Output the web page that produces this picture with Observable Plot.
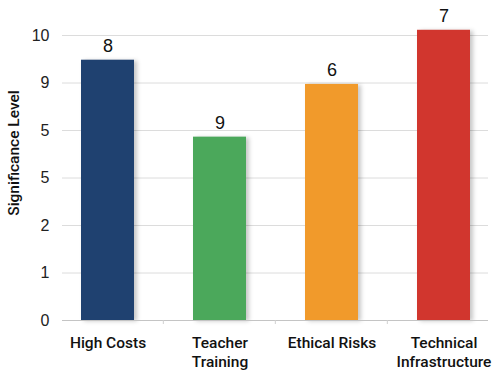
<!DOCTYPE html>
<html>
<head>
<meta charset="utf-8">
<script src="https://cdn.jsdelivr.net/npm/d3@7"></script>
<script src="https://cdn.jsdelivr.net/npm/@observablehq/plot@0.6"></script>
<style>
  html, body { margin: 0; padding: 0; background: #fff; }
  #chart svg { display: block; }
</style>
</head>
<body>
<div id="chart"></div>
<script>
const categories = ["High Costs", "Teacher\nTraining", "Ethical Risks", "Technical\nInfrastructure"];
const barHeights = [5.48, 3.86, 4.97, 6.11];
const barLabels = ["8", "9", "6", "7"];
const colors = ["#1f4170", "#4ba85b", "#f19a2b", "#d1362e"];
const yTickLabels = ["0", "1", "2", "5", "5", "9", "10"];
const yLabel = "Significance Level";

const data = categories.map((c, i) => ({cat: c, h: barHeights[i], lab: barLabels[i], col: colors[i]}));

const font = "'Liberation Sans', Arial, sans-serif";
const boldFont = "Roboto, 'Liberation Sans', sans-serif";

const chart = Plot.plot({
  width: 492,
  height: 372,
  marginLeft: 62,
  marginRight: 4,
  marginTop: 35,
  marginBottom: 52,
  style: {fontFamily: font, fontSize: "15px", color: "#222", background: "#fff", overflow: "visible"},
  x: {domain: categories, paddingInner: 0.53, paddingOuter: 0.15, label: null},
  y: {domain: [0, 6], label: null},
  marks: [
    Plot.gridY(d3.range(0, 7), {stroke: "#dcdcdc", strokeOpacity: 1, strokeWidth: 1}),
    Plot.axisY(d3.range(0, 7), {
      tickSize: 0, tickPadding: 13, fontSize: 16, fill: "#222",
      tickFormat: (d) => yTickLabels[d]
    }),
    Plot.barY(data, {
      x: "cat", y: "h", fill: "col",
      imageFilter: "drop-shadow(3px 1px 2px rgba(0,0,0,0.22))"
    }),
    Plot.ruleY([0], {stroke: "#c4c4c4", strokeWidth: 1.2}),
    Plot.axisX({
      tickSize: 0, tickPadding: 14, fontSize: 15.5, fontWeight: 500, fill: "#111",
      fontFamily: boldFont, lineAnchor: "top", lineHeight: 1.22
    }),
    Plot.text(data, {
      x: "cat", y: "h", text: "lab", lineAnchor: "bottom", dy: -8,
      fontSize: 18, fill: "#111"
    }),
    Plot.text([yLabel], {
      frameAnchor: "left", textAnchor: "middle", dx: -48, dy: -25, rotate: -90,
      fontSize: 15.5, fontWeight: 500, fill: "#111", fontFamily: boldFont
    })
  ]
});

// small separators between category bands on the baseline
const xs = chart.scale("x");
const svg = d3.select(chart);
const yBase = chart.scale("y").apply(0);
const step = xs.step;
categories.slice(1).forEach((c) => {
  const xp = xs.apply(c) - step * xs.paddingInner / 2;
  svg.append("line")
    .attr("x1", xp).attr("x2", xp)
    .attr("y1", yBase).attr("y2", yBase + 4)
    .attr("stroke", "#d0d0d0");
});

document.getElementById("chart").appendChild(chart);
</script>
</body>
</html>
